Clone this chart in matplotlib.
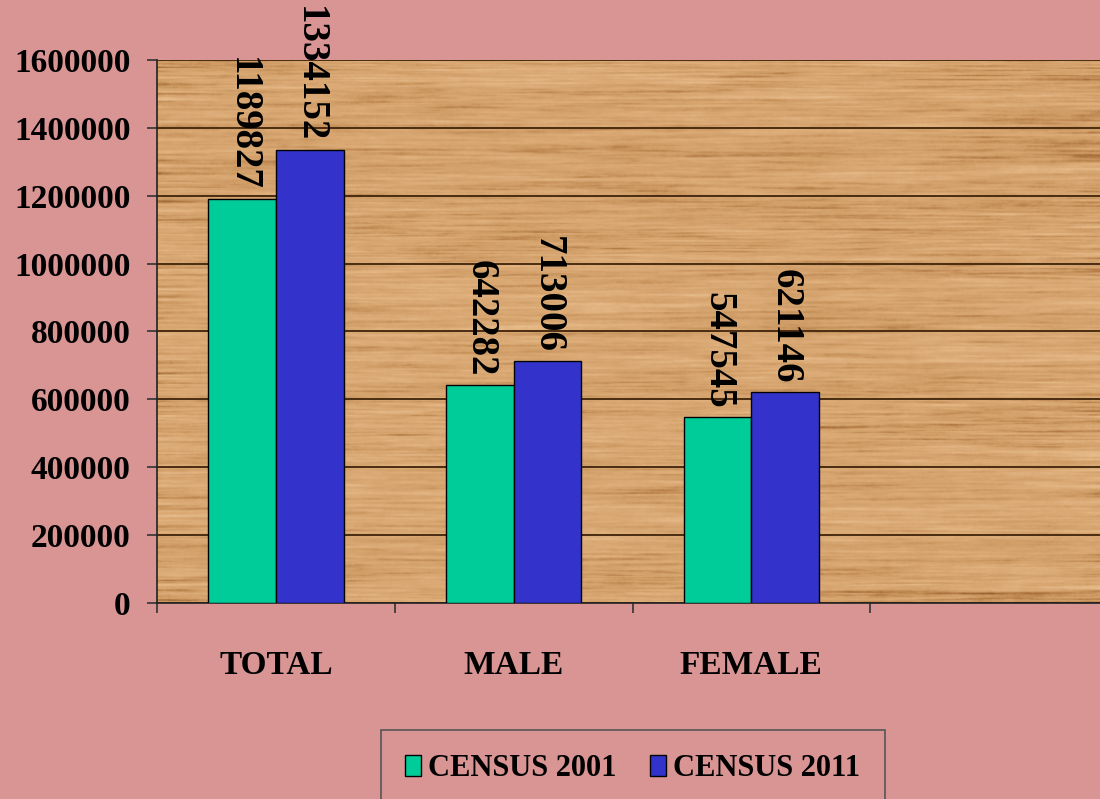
import numpy as np
import matplotlib
matplotlib.use("Agg")
from matplotlib import pyplot as plt
from matplotlib.patches import Patch
from matplotlib.colors import LinearSegmentedColormap

# chart data
categories = ["TOTAL", "MALE", "FEMALE"]
census_2001 = [1189827, 642282, 547545]
census_2011 = [1334152, 713006, 621146]
series_names = ["CENSUS 2001", "CENSUS 2011"]
y_ticks = [0, 200000, 400000, 600000, 800000, 1000000, 1200000, 1400000, 1600000]

PINK = "#D99594"
GREEN = "#00CC99"
BLUE = "#3333CC"

plt.rcParams['font.family'] = ['Liberation Serif', 'DejaVu Serif']
plt.rcParams['font.weight'] = 'bold'


def smooth(a, n, axis):
    # moving average along one axis, padded so edges stay even
    k = np.ones(n) / n
    pad = [(0, 0), (0, 0)]
    pad[axis] = (n, n)
    b = np.pad(a, pad, mode='reflect')
    b = np.apply_along_axis(lambda v: np.convolve(v, k, mode='same'), axis, b)
    sl = [slice(None), slice(None)]
    sl[axis] = slice(n, -n)
    return b[tuple(sl)]


def wood_texture(h, w, seed=5):
    # horizontal grain: noise stretched a lot along x
    rng = np.random.default_rng(seed)
    fine = smooth(smooth(rng.standard_normal((h, w)), 70, 1), 2, 0)
    mid = smooth(smooth(rng.standard_normal((h, w)), 220, 1), 6, 0)
    coarse = smooth(smooth(rng.standard_normal((h, w)), 400, 1), 25, 0)
    t = fine / fine.std() + 0.6 * mid / mid.std() + 0.5 * coarse / coarse.std()
    t = (t - t.min()) / (t.max() - t.min())
    return t ** 0.75


fig = plt.figure(figsize=(11, 7.99), dpi=100, facecolor=PINK)
ax = fig.add_axes([157 / 1100, 1 - 603 / 799, 951 / 1100, (603 - 60) / 799])

wood_cmap = LinearSegmentedColormap.from_list(
    "wood", ["#8e5a2e", "#b27a45", "#cf9c66", "#ddad79", "#e9c08f"])
ax.imshow(wood_texture(540, 950), cmap=wood_cmap, extent=[-0.5, 3.5, 0, 1600000],
          aspect='auto', interpolation='bilinear', zorder=0)

x = np.arange(len(categories))
w = 0.285
ax.bar(x - w / 2, census_2001, w, color=GREEN, edgecolor='black', linewidth=1, zorder=3)
ax.bar(x + w / 2, census_2011, w, color=BLUE, edgecolor='black', linewidth=1, zorder=3)

# value labels, rotated, ending just above the bar
for xi, v in zip(x - w / 2, census_2001):
    ax.annotate(str(v), (xi, v), xytext=(0, 6), textcoords='offset points',
                rotation=270, rotation_mode='anchor', ha='right', va='center',
                fontsize=28, zorder=5)
for xi, v in zip(x + w / 2, census_2011):
    ax.annotate(str(v), (xi, v), xytext=(0, 6), textcoords='offset points',
                rotation=270, rotation_mode='anchor', ha='right', va='center',
                fontsize=28, zorder=5)

ax.set_xlim(-0.5, 3.5)
ax.set_ylim(0, 1600000)
ax.set_yticks(y_ticks)
ax.set_yticklabels([str(t) for t in y_ticks])
ax.set_xticks(x)
ax.set_xticklabels(categories)
ax.set_xticks([-0.5, 0.5, 1.5, 2.5], minor=True)

ax.tick_params(axis='y', labelsize=24, length=7, width=1.2, color='#333333', pad=12)
ax.tick_params(axis='x', which='major', labelsize=24, length=0, pad=34)
ax.tick_params(axis='x', which='minor', length=7, width=1.2, color='#333333')

ax.yaxis.grid(True, color='#4a2c12', linewidth=1.4)
ax.set_axisbelow(True)
for side in ['top', 'right']:
    ax.spines[side].set_visible(False)
ax.spines['left'].set_color('#222222')
ax.spines['bottom'].set_color('#222222')
ax.spines['left'].set_linewidth(1.2)
ax.spines['bottom'].set_linewidth(1.2)

handles = [Patch(facecolor=GREEN, edgecolor='black', linewidth=1),
           Patch(facecolor=BLUE, edgecolor='black', linewidth=1)]
leg = fig.legend(handles, series_names, loc='upper center',
                 bbox_to_anchor=(633 / 1100, 1 - 730 / 799), ncol=2,
                 fontsize=22, frameon=True, fancybox=False, facecolor=PINK,
                 edgecolor='#555555', framealpha=1, handlelength=0.5,
                 handleheight=0.7, handletextpad=0.25, columnspacing=1.1,
                 borderpad=0.8, borderaxespad=0)
leg.get_frame().set_linewidth(1.2)

fig.savefig("out.png", dpi=100, facecolor=PINK)
